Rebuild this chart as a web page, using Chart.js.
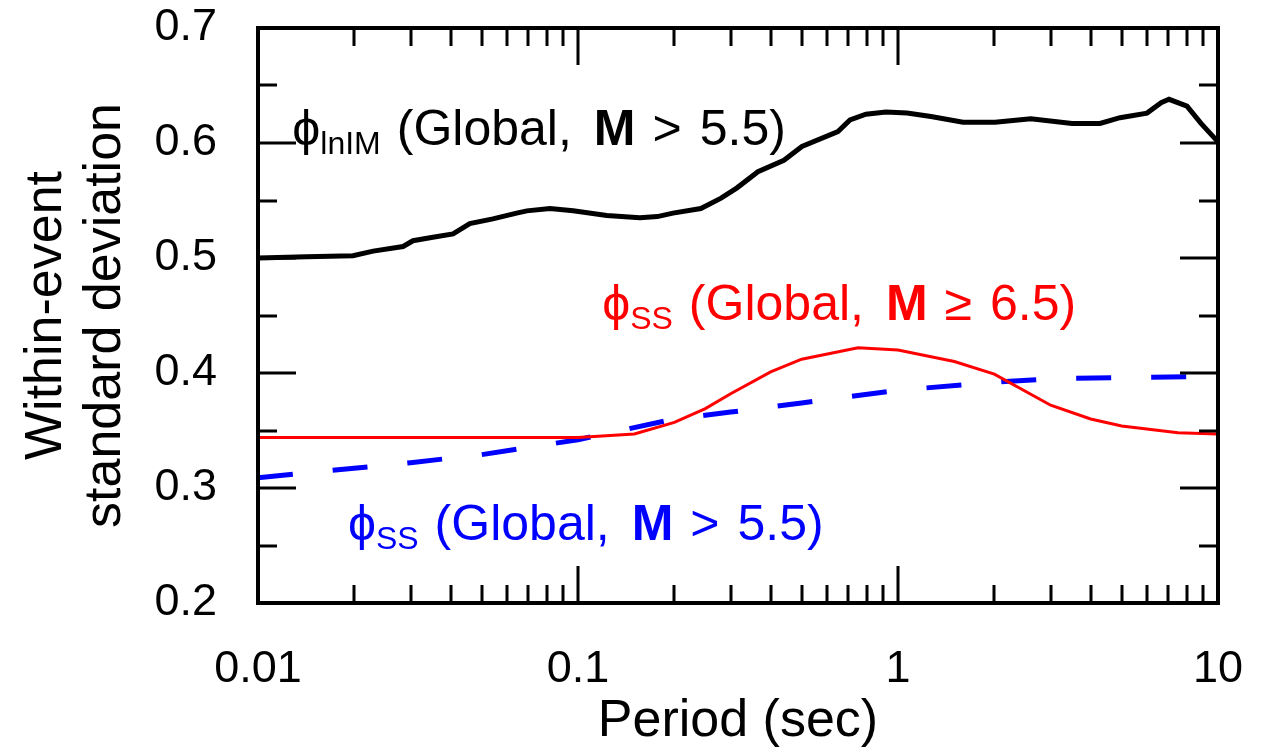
<!DOCTYPE html>
<html>
<head>
<meta charset="utf-8">
<title>Within-event standard deviation</title>
<script src="https://cdn.jsdelivr.net/npm/chart.js@4.4.1/dist/chart.umd.min.js"></script>
<style>
  body { margin: 0; background: #fff; }
  .wrap { width: 1271px; height: 754px; }
</style>
</head>
<body>
<div class="wrap"><canvas id="myChart"></canvas></div>
<script>
// phi lnIM (Global, M > 5.5) - black
const blackPeriods = [0.01, 0.0142, 0.0198, 0.0229, 0.0284, 0.0305, 0.0352, 0.0407, 0.0459, 0.0542, 0.0643, 0.0692, 0.0817, 0.0966, 0.123, 0.156, 0.177, 0.198, 0.242, 0.28, 0.314, 0.365, 0.44, 0.501, 0.649, 0.708, 0.794, 0.917, 1.067, 1.268, 1.596, 2.01, 2.6, 3.5, 4.28, 4.94, 6.0, 6.64, 7.03, 8.0, 8.85, 10];
const blackValues  = [0.500, 0.501, 0.502, 0.506, 0.510, 0.515, 0.518, 0.521, 0.530, 0.534, 0.539, 0.541, 0.543, 0.541, 0.537, 0.535, 0.536, 0.539, 0.543, 0.552, 0.561, 0.575, 0.585, 0.597, 0.610, 0.620, 0.625, 0.627, 0.626, 0.623, 0.618, 0.618, 0.621, 0.617, 0.617, 0.622, 0.626, 0.635, 0.638, 0.632, 0.617, 0.601];

// phi SS (Global, M >= 6.5) - red
const redPeriods = [0.01, 0.02, 0.03, 0.05, 0.075, 0.1, 0.15, 0.2, 0.25, 0.3, 0.4, 0.5, 0.75, 1, 1.5, 2, 3, 4, 5, 7.5, 10];
const redValues  = [0.344, 0.344, 0.344, 0.344, 0.344, 0.344, 0.347, 0.357, 0.369, 0.382, 0.401, 0.412, 0.422, 0.420, 0.410, 0.399, 0.372, 0.360, 0.354, 0.348, 0.347];

// phi SS (Global, M > 5.5) - blue dashed
const bluePeriods = [0.01, 0.03, 0.05, 0.1, 0.2, 0.3, 0.5, 1, 2, 3, 5, 10];
const blueValues  = [0.309, 0.322, 0.329, 0.342, 0.360, 0.366, 0.374, 0.385, 0.392, 0.395, 0.396, 0.397];

const xTickValues = [0.01, 0.1, 1, 10];
const yTickValues = [0.2, 0.3, 0.4, 0.5, 0.6, 0.7];

const FONT = '"Liberation Sans", Arial, sans-serif';

function toPoints(xs, ys) {
  return xs.map((v, i) => ({x: v, y: ys[i]}));
}

// ticks drawn inside the frame on all four sides, plus the frame itself
const frameTicks = {
  id: 'frameTicks',
  afterDatasetsDraw(chart) {
    const {ctx, chartArea: a, scales: {x, y}} = chart;
    ctx.save();
    ctx.strokeStyle = '#000';
    ctx.lineWidth = 3;
    ctx.beginPath();
    for (let v = 0.25; v < 0.7; v += 0.05) {
      const p = Math.round(y.getPixelForValue(v));
      const major = Math.abs(v * 10 - Math.round(v * 10)) < 1e-6;
      const len = major ? 38 : 19;
      ctx.moveTo(a.left, p); ctx.lineTo(a.left + len, p);
      ctx.moveTo(a.right, p); ctx.lineTo(a.right - len, p);
    }
    [0.01, 0.1, 1].forEach(dec => {
      for (let m = 1; m <= 9; m++) {
        if (dec === 0.01 && m === 1) continue;
        const p = Math.round(x.getPixelForValue(dec * m));
        const len = m === 1 ? 37 : 18;
        ctx.moveTo(p, a.bottom); ctx.lineTo(p, a.bottom - len);
        ctx.moveTo(p, a.top); ctx.lineTo(p, a.top + len);
      }
    });
    ctx.stroke();
    ctx.lineWidth = 4;
    ctx.strokeRect(a.left, a.top, a.right - a.left, a.bottom - a.top);
    ctx.restore();
  }
};

// curve labels
const labelDefs = [
  {x: 0.0128, y: 0.598, color: '#000', sub: 'lnIM', rel: '>', mag: '5.5)'},
  {x: 0.119,  y: 0.446, color: '#ff0000', sub: 'SS', rel: '\u2265', mag: '6.5)'},
  {x: 0.0191, y: 0.255, color: '#0000ff', sub: 'SS', rel: '>', mag: '5.5)'}
];

const curveLabels = {
  id: 'curveLabels',
  afterDraw(chart) {
    const {ctx, scales: {x, y}} = chart;
    ctx.save();
    ctx.textBaseline = 'alphabetic';
    ctx.textAlign = 'left';
    labelDefs.forEach(l => {
      let px = x.getPixelForValue(l.x);
      const py = y.getPixelForValue(l.y);
      const parts = [
        {t: '\u03D5', f: '50px ' + FONT, dy: 0, gap: 0},
        {t: l.sub, f: '32px ' + FONT, dy: 9, gap: 16},
        {t: '(Global,', f: '50px ' + FONT, dy: 0, gap: 22},
        {t: 'M', f: 'bold 50px ' + FONT, dy: 0, gap: 17},
        {t: l.rel, f: '50px ' + FONT, dy: 0, gap: 18},
        {t: l.mag, f: '50px ' + FONT, dy: 0, gap: 0}
      ];
      ctx.fillStyle = l.color;
      parts.forEach(p => {
        ctx.font = p.f;
        ctx.fillText(p.t, px, py + p.dy);
        px += ctx.measureText(p.t).width + p.gap;
      });
    });
    ctx.restore();
  }
};

const data = {
  datasets: [
    {
      label: 'phi lnIM (Global, M > 5.5)',
      data: toPoints(blackPeriods, blackValues),
      borderColor: '#000',
      borderWidth: 5,
      showLine: true,
      pointRadius: 0,
      tension: 0
    },
    {
      label: 'phi SS (Global, M >= 6.5)',
      data: toPoints(redPeriods, redValues),
      borderColor: '#ff0000',
      borderWidth: 3,
      showLine: true,
      pointRadius: 0,
      tension: 0
    },
    {
      label: 'phi SS (Global, M > 5.5)',
      data: toPoints(bluePeriods, blueValues),
      borderColor: '#0000ff',
      borderWidth: 5,
      borderDash: [35, 40],
      showLine: true,
      pointRadius: 0,
      tension: 0
    }
  ]
};

const config = {
  type: 'scatter',
  data: data,
  options: {
    responsive: true,
    maintainAspectRatio: false,
    animation: false,
    layout: {padding: {left: 0, right: 53, top: 28, bottom: 0}},
    plugins: {legend: {display: false}, tooltip: {enabled: false}},
    scales: {
      x: {
        type: 'logarithmic',
        min: 0.01,
        max: 10,
        afterBuildTicks: s => { s.ticks = xTickValues.map(v => ({value: v})); },
        afterFit: s => { s.height = 151; s.paddingLeft = 0; s.paddingRight = 0; },
        grid: {display: false, drawTicks: false},
        border: {display: false},
        ticks: {
          color: '#000',
          padding: 40,
          maxRotation: 0,
          font: {family: FONT, size: 45},
          callback: v => String(v)
        },
        title: {
          display: true,
          text: 'Period (sec)',
          color: '#000',
          font: {family: FONT, size: 52, lineHeight: 1.135},
          padding: {top: 0, bottom: 3}
        }
      },
      y: {
        min: 0.2,
        max: 0.7,
        afterBuildTicks: s => { s.ticks = yTickValues.map(v => ({value: v})); },
        afterFit: s => { s.width = 258; s.paddingTop = 0; s.paddingBottom = 0; },
        grid: {display: false, drawTicks: false},
        border: {display: false},
        ticks: {
          color: '#000',
          padding: 41,
          font: {family: FONT, size: 45},
          callback: v => v.toFixed(1)
        },
        title: {
          display: true,
          text: ['Within-event', 'standard deviation'],
          color: '#000',
          font: {family: FONT, size: 52, lineHeight: 1.135},
          padding: {top: 17, bottom: 0}
        }
      }
    }
  },
  plugins: [frameTicks, curveLabels]
};

const myChart = new Chart(document.getElementById('myChart'), config);
</script>
</body>
</html>
